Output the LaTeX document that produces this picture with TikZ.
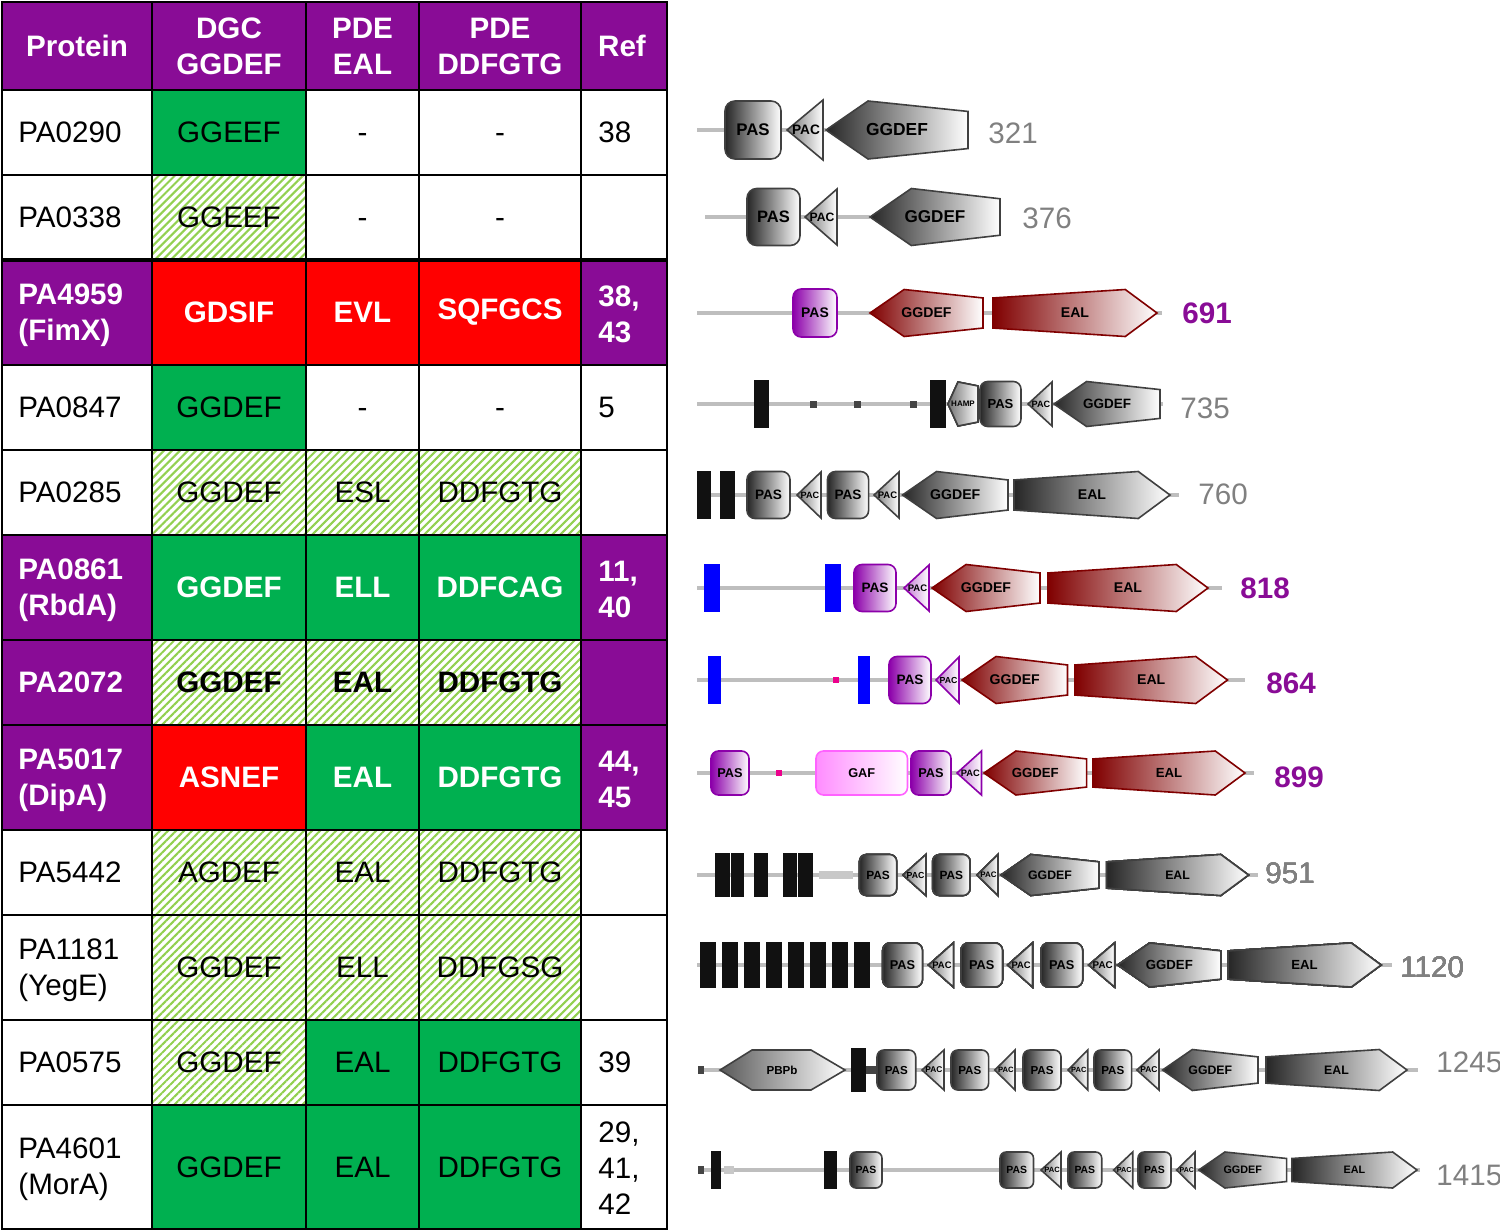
\documentclass[tikz,border=0pt]{standalone}
\usepackage{fontspec}
\setmainfont{Liberation Sans}
\usetikzlibrary{patterns.meta}

\definecolor{hdrpurple}{RGB}{137,12,150}
\definecolor{cellgreen}{RGB}{0,176,80}
\definecolor{cellred}{RGB}{255,0,0}
\definecolor{hatchgreen}{RGB}{146,208,80}
\definecolor{linegray}{RGB}{190,190,190}
\definecolor{numgray}{RGB}{128,128,128}
\definecolor{domred}{RGB}{128,0,0}
\definecolor{dompurple}{RGB}{140,0,170}
\definecolor{gafpink}{RGB}{255,140,255}
\definecolor{tmblue}{RGB}{0,0,255}
\definecolor{tmblack}{RGB}{17,17,17}
\definecolor{dotgray}{RGB}{68,68,68}

\def\tabfont{\fontsize{14.8pt}{18pt}\selectfont}

\tikzset{
	gridline/.style={draw=black, line width=1.1pt},
	hatch/.style={pattern={Lines[angle=45,distance=2.83pt,line width=1.05pt]}, pattern color=hatchgreen},
	cell/.style={inner sep=0pt, align=center, font=\tabfont},
	cellw/.style={cell, anchor=west, align=left},
	wbold/.style={text=white, font=\tabfont\bfseries},
	bbold/.style={font=\tabfont\bfseries},
	hdrtxt/.style={cell, wbold},
	backbone/.style={draw=linegray, line width=2.3pt},
	graydom/.style={draw=black!75, line width=0.8pt, left color=black!85, right color=white},
	graypac/.style={draw=black!75, line width=0.8pt, left color=black!55, right color=white},
	reddom/.style={draw=domred, line width=0.8pt, left color=domred, right color=white},
	purpdom/.style={draw=dompurple, line width=0.8pt, left color=dompurple, right color=white},
	purppac/.style={draw=dompurple, line width=0.8pt, left color=dompurple!55, right color=white},
	gafdom/.style={draw=gafpink!70!magenta, line width=0.8pt, left color=gafpink, right color=white},
	domtext/.style={inner sep=0pt, font=\bfseries, text=black},
	numtxt/.style={anchor=west, inner sep=0pt, font=\tabfont, text=numgray},
	numbold/.style={numtxt, font=\tabfont\bfseries, text=hdrpurple}
}

\newcounter{domc}
\def\domlabel(#1,#2:#3)#4{\stepcounter{domc}\node[domtext] (dom\arabic{domc}) at (#1,#2) {\fontsize{#3pt}{#3pt}\selectfont #4};}
\def\pasbox[#1](#2:#3:#4:#5)#6{\draw[#1,rounded corners={#5*0.17pt}] (#2,{#4-#5}) rectangle (#3,{#4+#5});
	\pgfmathsetmacro\dfs{0.29*#5}\pgfmathsetmacro\dx{(#2+#3)/2}\domlabel(\dx,#4:\dfs){#6}}
\def\lpent[#1](#2:#3:#4:#5)#6{\pgfmathsetmacro\dsx{#2+1.45*#5}
	\draw[#1] (#2,#4) -- (\dsx,{#4-#5}) -- (#3,{#4-0.64*#5}) -- (#3,{#4+0.64*#5}) -- (\dsx,{#4+#5}) -- cycle;
	\pgfmathsetmacro\dfs{0.3*#5}\pgfmathsetmacro\dx{(#2+#3)/2}\domlabel(\dx,#4:\dfs){#6}}
\def\rpent[#1](#2:#3:#4:#5)#6{\pgfmathsetmacro\dsx{#3-1.35*#5}
	\draw[#1] (#2,{#4-0.64*#5}) -- (\dsx,{#4-#5}) -- (#3,#4) -- (\dsx,{#4+#5}) -- (#2,{#4+0.64*#5}) -- cycle;
	\pgfmathsetmacro\dfs{0.3*#5}\pgfmathsetmacro\dx{(#2+#3)/2}\domlabel(\dx,#4:\dfs){#6}}
\def\pac[#1](#2:#3:#4:#5){\draw[#1] (#2,#4) -- (#3,{#4-#5}) -- (#3,{#4+#5}) -- cycle;
	\pgfmathsetmacro\dfs{0.19*(#3-#2)}\pgfmathsetmacro\dx{(#2+#3)/2+1}\domlabel(\dx,#4:\dfs){PAC}}
\def\tmbar[#1](#2:#3:#4:#5){\fill[#1] (#2,{#4-#5}) rectangle (#3,{#4+#5});}

\begin{document}
\begin{tikzpicture}[x=0.5pt,y=-0.5pt]
	%%%%% START %%%%%
	\useasboundingbox (0,0) rectangle (1500,1231);
	
	% table fills
	\fill[hdrpurple] (2,2) rectangle (667,90);
	\fill[hdrpurple] (2,260) rectangle (152,365);
	\fill[hdrpurple] (581,260) rectangle (667,365);
	\fill[hdrpurple] (2,535) rectangle (152,830);
	\fill[hdrpurple] (581,535) rectangle (667,830);
	
	\fill[cellgreen] (152,90) rectangle (306,175);
	\fill[cellgreen] (152,365) rectangle (306,450);
	\fill[cellgreen] (152,535) rectangle (581,640);
	\fill[cellgreen] (306,725) rectangle (581,830);
	\fill[cellgreen] (306,1020) rectangle (581,1105);
	\fill[cellgreen] (152,1105) rectangle (581,1229);
	
	\fill[cellred] (152,260) rectangle (581,365);
	\fill[cellred] (152,725) rectangle (306,830);
	
	\fill[hatch] (152,175) rectangle (306,260);
	\fill[hatch] (152,450) rectangle (581,535);
	\fill[hatch] (152,640) rectangle (581,725);
	\fill[hatch] (152,830) rectangle (581,1020);
	\fill[hatch] (152,1020) rectangle (306,1105);
	
	% grid
	\draw[gridline] (2,2) rectangle (667,1229);
	\foreach \x in {152,306,419,581} \draw[gridline] (\x,2) -- (\x,1229);
	\foreach \y in {90,175,365,450,535,640,725,830,915,1020,1105} \draw[gridline] (2,\y) -- (667,\y);
	\draw[gridline, line width=1.6pt] (2,260) -- (667,260);
	
	% header
	\node[hdrtxt] (hprot) at (77,46) {Protein};
	\node[hdrtxt] (hdgc) at (229,46) {DGC\\GGDEF};
	\node[hdrtxt] (heal) at (362.5,46) {PDE\\EAL};
	\node[hdrtxt] (hddf) at (500,46) {PDE\\DDFGTG};
	\node[hdrtxt] (href) at (622,46) {Ref};
	
	% rows
	\node[cellw] (p1) at (18,132.5) {PA0290};
	\node[cell] (g1) at (229,132.5) {GGEEF};
	\node[cell] (e1) at (362.5,132.5) {\vphantom{0}-};
	\node[cell] (d1) at (500,132.5) {\vphantom{0}-};
	\node[cellw] (r1) at (598,132.5) {38};
	
	\node[cellw] (p2) at (18,217.5) {PA0338};
	\node[cell] (g2) at (229,217.5) {GGEEF};
	\node[cell] (e2) at (362.5,217.5) {\vphantom{0}-};
	\node[cell] (d2) at (500,217.5) {\vphantom{0}-};
	
	\node[cellw,wbold] (p3) at (18,315) {PA4959\\(FimX)};
	\node[cell,wbold] (g3) at (229,312.5) {GDSIF};
	\node[cell,wbold] (e3) at (362.5,312.5) {EVL};
	\node[cell,wbold] (d3) at (500,312.5) {SQFGCS};
	\node[cellw,wbold] (r3) at (598,314) {38,\\43};
	
	\node[cellw] (p4) at (18,407.5) {PA0847};
	\node[cell] (g4) at (229,407.5) {GGDEF};
	\node[cell] (e4) at (362.5,407.5) {\vphantom{0}-};
	\node[cell] (d4) at (500,407.5) {\vphantom{0}-};
	\node[cellw] (r4) at (598,407.5) {5};
	
	\node[cellw] (p5) at (18,492.5) {PA0285};
	\node[cell] (g5) at (229,492.5) {GGDEF};
	\node[cell] (e5) at (362.5,492.5) {ESL};
	\node[cell] (d5) at (500,492.5) {DDFGTG};
	
	\node[cellw,wbold] (p6) at (18,590) {PA0861\\(RbdA)};
	\node[cell,wbold] (g6) at (229,587.5) {GGDEF};
	\node[cell,wbold] (e6) at (362.5,587.5) {ELL};
	\node[cell,wbold] (d6) at (500,587.5) {DDFCAG};
	\node[cellw,wbold] (r6) at (598,589) {11,\\40};
	
	\node[cellw,wbold] (p7) at (18,682.5) {PA2072};
	\node[cell,bbold] (g7) at (229,682.5) {GGDEF};
	\node[cell,bbold] (e7) at (362.5,682.5) {EAL};
	\node[cell,bbold] (d7) at (500,682.5) {DDFGTG};
	
	\node[cellw,wbold] (p8) at (18,780) {PA5017\\(DipA)};
	\node[cell,wbold] (g8) at (229,777.5) {ASNEF};
	\node[cell,wbold] (e8) at (362.5,777.5) {EAL};
	\node[cell,wbold] (d8) at (500,777.5) {DDFGTG};
	\node[cellw,wbold] (r8) at (598,779) {44,\\45};
	
	\node[cellw] (p9) at (18,872.5) {PA5442};
	\node[cell] (g9) at (229,872.5) {AGDEF};
	\node[cell] (e9) at (362.5,872.5) {EAL};
	\node[cell] (d9) at (500,872.5) {DDFGTG};
	
	\node[cellw] (p10) at (18,970) {PA1181\\(YegE)};
	\node[cell] (g10) at (229,967.5) {GGDEF};
	\node[cell] (e10) at (362.5,967.5) {ELL};
	\node[cell] (d10) at (500,967.5) {DDFGSG};
	
	\node[cellw] (p11) at (18,1062.5) {PA0575};
	\node[cell] (g11) at (229,1062.5) {GGDEF};
	\node[cell] (e11) at (362.5,1062.5) {EAL};
	\node[cell] (d11) at (500,1062.5) {DDFGTG};
	\node[cellw] (r11) at (598,1062.5) {39};
	
	\node[cellw] (p12) at (18,1169.5) {PA4601\\(MorA)};
	\node[cell] (g12) at (229,1167) {GGDEF};
	\node[cell] (e12) at (362.5,1167) {EAL};
	\node[cell] (d12) at (500,1167) {DDFGTG};
	\node[cellw] (r12) at (598,1168) {29,\\41,\\42};
	
	%%%%% DOMAINS %%%%%
	
	% 321
	\draw[backbone] (697,130) -- (826,130);
	\pasbox[graydom](725:781:130:29){PAS}
	\pac[graypac](787:823:130:30)
	\lpent[graydom](826:968:130:29){GGDEF}
	\node[numtxt] (n321) at (988,133) {321};
	
	% 376
	\draw[backbone] (705,217) -- (870,217);
	\pasbox[graydom](747:800:217:28.5){PAS}
	\pac[graypac](805:837:217:28)
	\lpent[graydom](870:1000:217:28.5){GGDEF}
	\node[numtxt] (n376) at (1022,218) {376};
	
	% 691
	\draw[backbone] (697,313) -- (1162,313);
	\pasbox[purpdom](793:837:313:24){PAS}
	\lpent[reddom](870:983:313:23.5){GGDEF}
	\rpent[reddom](993:1157:313:23.5){EAL}
	\node[numbold] (n691) at (1182,313) {691};
	
	% 735
	\draw[backbone] (697,404) -- (1163,404);
	\tmbar[tmblack](754:769:404:24)
	\foreach \x in {813,857,913} \tmbar[dotgray](\x-3.5:\x+3.5:404:3.5)
	\tmbar[tmblack](930:946:404:24)
	\draw[graypac] (948,404) -- (958,382) -- (978,386) -- (978,422) -- (958,426) -- cycle;
	\node[domtext,font=\fontsize{4pt}{4pt}\selectfont\bfseries] (hamp) at (963,404) {HAMP};
	\pasbox[graydom](980:1021:404:22.5){PAS}
	\pac[graypac](1028:1052:404:22)
	\lpent[graydom](1054:1160:404:22.5){GGDEF}
	\node[numtxt] (n735) at (1180,408) {735};
	
	% 760
	\draw[backbone] (697,495) -- (1179,495);
	\tmbar[tmblack](697:711:495:24)
	\tmbar[tmblack](720:735:495:24)
	\pasbox[graydom](747:790:495:23.5){PAS}
	\pac[graypac](797:821:495:23)
	\pasbox[graydom](827.5:868.6:495:23.5){PAS}
	\pac[graypac](874:899:495:23)
	\lpent[graydom](902.5:1008:495:23.5){GGDEF}
	\rpent[graydom](1014:1170:495:23.5){EAL}
	\node[numtxt] (n760) at (1198,494) {760};
	
	% 818
	\draw[backbone] (697,588) -- (1222,588);
	\tmbar[tmblue](704:720:588:24)
	\tmbar[tmblue](825:841:588:24)
	\pasbox[purpdom](854:896:588:23.5){PAS}
	\pac[purppac](904:929:588:23)
	\lpent[reddom](932:1040:588:23.5){GGDEF}
	\rpent[reddom](1048:1208:588:23.5){EAL}
	\node[numbold] (n818) at (1240,588) {818};
	
	% 864
	\draw[backbone] (697,680) -- (1245,680);
	\tmbar[tmblue](708:721:680:24)
	\tmbar[magenta](833:839:680:3)
	\tmbar[tmblue](858:870:680:24)
	\pasbox[purpdom](889:931:680:23.5){PAS}
	\pac[purppac](936:959:680:23)
	\lpent[reddom](962:1067.5:680:23.5){GGDEF}
	\rpent[reddom](1075:1227.5:680:23.5){EAL}
	\node[numbold] (n864) at (1266,683) {864};
	
	% 899
	\draw[backbone] (697,773) -- (1254,773);
	\pasbox[purpdom](711:749:773:22){PAS}
	\tmbar[magenta](776:782:773:3)
	\pasbox[gafdom](816:907.5:773:22){GAF}
	\pasbox[purpdom](911:951:773:22){PAS}
	\pac[purppac](957:981.5:773:22)
	\lpent[reddom](984:1086.6:773:22){GGDEF}
	\rpent[reddom](1093:1245:773:22){EAL}
	\node[numbold] (n899) at (1274,777) {899};
	
	% 951
	\draw[backbone] (697,875) -- (1258,875);
	\foreach \a/\b in {715/730,731/744,754/768,783/797,798/813} \tmbar[tmblack](\a:\b:875:22)
	\tmbar[linegray!85](819:853:875:4)
	\pasbox[graydom](859.5:896.6:875:20.5){PAS}
	\pac[graypac](903:926:875:20.5)
	\pasbox[graydom](932.6:970:875:20.5){PAS}
	\pac[graypac](977:998:875:20.5)
	\lpent[graydom](1001:1099:875:20.5){GGDEF}
	\rpent[graydom](1106.6:1248.5:875:20.5){EAL}
	\node[numtxt] (n951) at (1265,873) {951};
	
	% 1120
	\draw[backbone] (697,965) -- (1392,965);
	\foreach \x in {700,722,744,766,788,810,832,854} \tmbar[tmblack](\x:\x+16:965:23)
	\pasbox[graydom](882.7:922.4:965:22){PAS}
	\pac[graypac](928.6:953.4:965:22)
	\pasbox[graydom](961:1002.5:965:22){PAS}
	\pac[graypac](1007.7:1032.5:965:22)
	\pasbox[graydom](1041:1082.6:965:22){PAS}
	\pac[graypac](1088.8:1114.6:965:22)
	\lpent[graydom](1117.7:1221:965:22){GGDEF}
	\rpent[graydom](1228:1381:965:22){EAL}
	\node[numtxt] (n1120) at (1400,967) {1120};
	
	% 1245
	\draw[backbone] (698,1070) -- (1418,1070);
	\tmbar[dotgray](698:704:1070:4)
	\draw[graydom, left color=black!65] (720,1070) -- (752,1050) -- (811,1050) -- (845,1070) -- (811,1090) -- (752,1090) -- cycle;
	\node[domtext,font=\fontsize{5.8pt}{5.8pt}\selectfont\bfseries] (pbpb) at (782,1070) {PBPb};
	\tmbar[tmblack](851:865.6:1070:22)
	\tmbar[dotgray](865.6:877:1070:4)
	\pasbox[graydom](877:915.7:1070:20){PAS}
	\pac[graypac](922:944:1070:20)
	\pasbox[graydom](951:988.6:1070:20){PAS}
	\pac[graypac](994.8:1015:1070:20)
	\pasbox[graydom](1023:1061:1070:20){PAS}
	\pac[graypac](1068:1087.7:1070:20)
	\pasbox[graydom](1094:1131.6:1070:20){PAS}
	\pac[graypac](1136.8:1159:1070:20)
	\lpent[graydom](1162.6:1258:1070:20.5){GGDEF}
	\rpent[graydom](1266:1407:1070:20.5){EAL}
	\node[numtxt] (n1245) at (1436,1062) {1245};
	
	% 1415
	\draw[backbone] (698,1170) -- (1420,1170);
	\tmbar[dotgray](698:704:1170:4)
	\tmbar[tmblack](710.7:721:1170:19)
	\tmbar[linegray!85](723.6:734:1170:4)
	\tmbar[tmblack](824:837:1170:19)
	\pasbox[graydom](850:882:1170:18){PAS}
	\pasbox[graydom](1000:1033.5:1170:18){PAS}
	\pac[graypac](1041:1061:1170:18)
	\pasbox[graydom](1068:1101.7:1170:18){PAS}
	\pac[graypac](1113.6:1132.7:1170:18)
	\pasbox[graydom](1138:1171:1170:18){PAS}
	\pac[graypac](1176.6:1195:1170:18)
	\lpent[graydom](1198.8:1286.6:1170:18){GGDEF}
	\rpent[graydom](1291.8:1417:1170:18){EAL}
	\node[numtxt] (n1415) at (1436,1175) {1415};
	
	%%%%% END %%%%%
\end{tikzpicture}
\end{document}
